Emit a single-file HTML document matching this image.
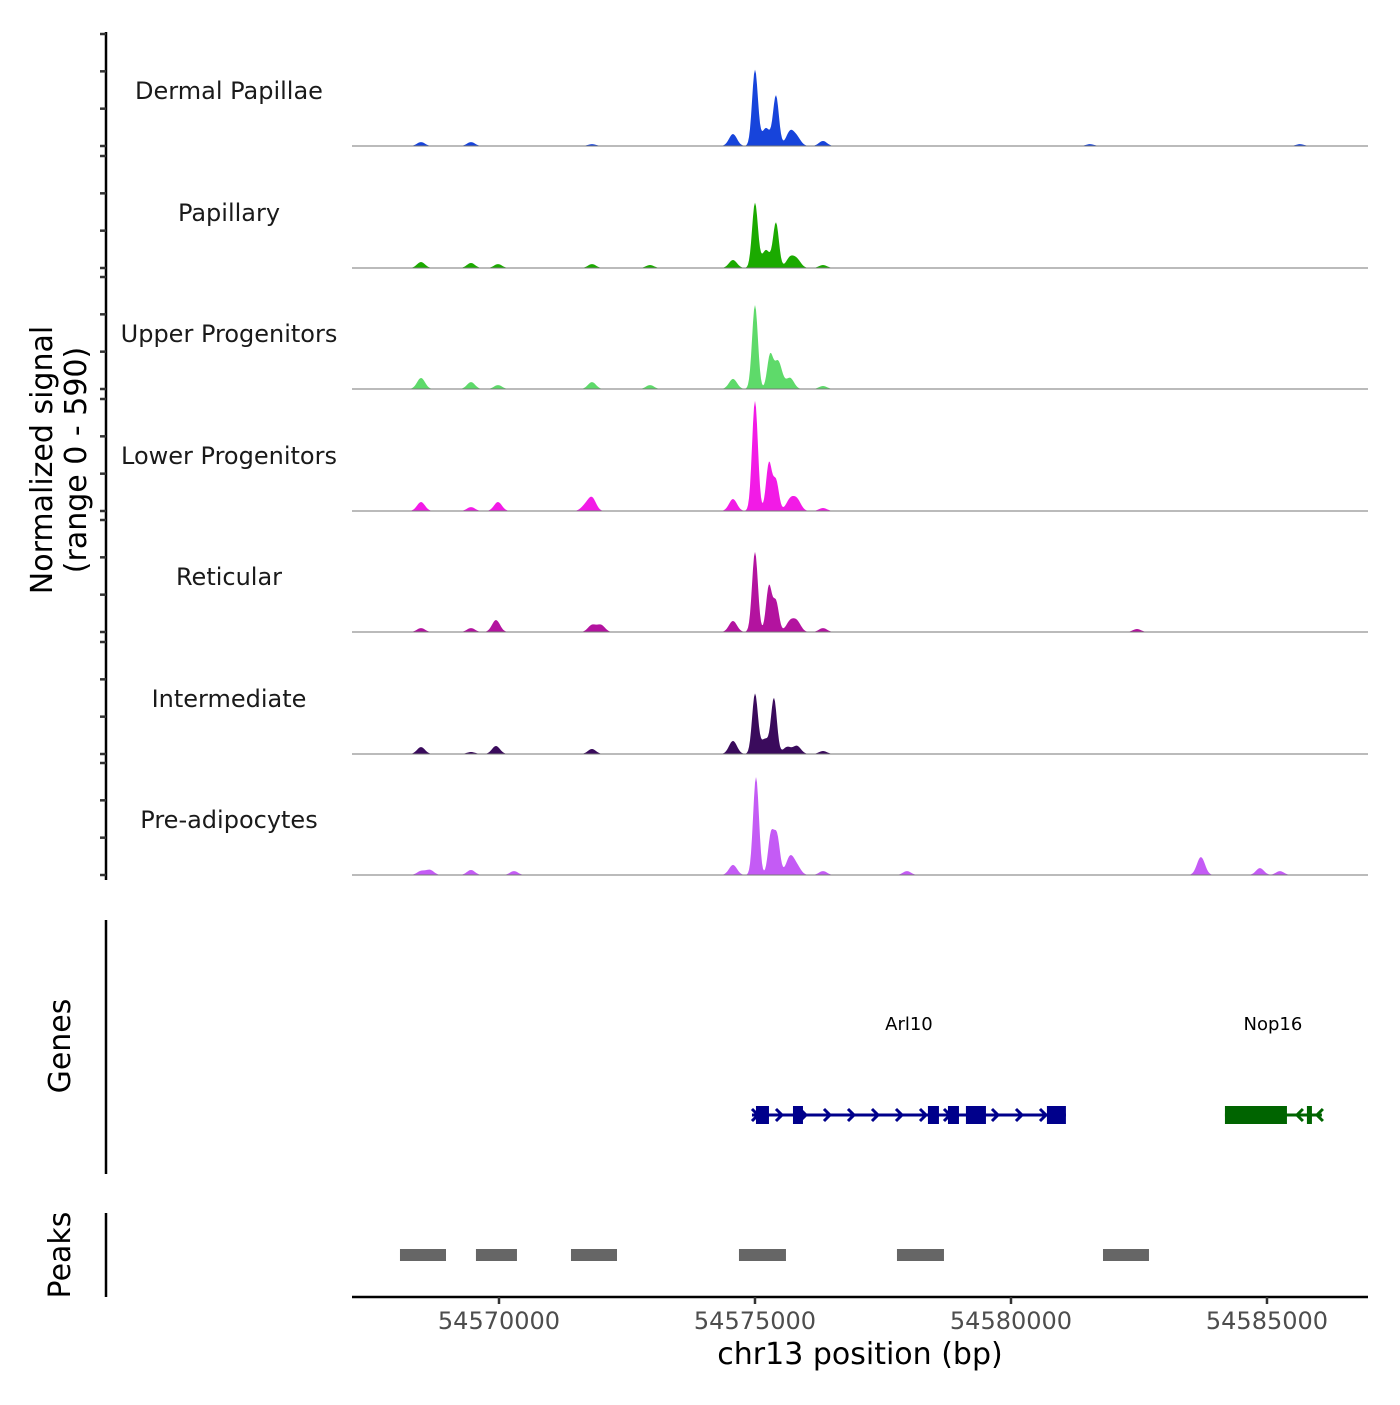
<!DOCTYPE html>
<html><head><meta charset="utf-8"><style>
body{margin:0;background:#fff}
svg text{font-family:"DejaVu Sans","Liberation Sans",sans-serif}
</style></head><body>
<svg id="chart" width="1400" height="1400" viewBox="0 0 1400 1400" xmlns="http://www.w3.org/2000/svg">
<g id="tracks"></g>
<line x1="106" y1="32" x2="106" y2="880" stroke="#000" stroke-width="2.5"/>
<g id="yticks"></g>
<g font-size="30" fill="#000">
<text transform="translate(52,460) rotate(-90)" text-anchor="middle">Normalized signal</text>
<text transform="translate(86,460) rotate(-90)" text-anchor="middle">(range 0 - 590)</text>
</g>
<line x1="106" y1="920" x2="106" y2="1174" stroke="#000" stroke-width="2.5"/>
<text transform="translate(70,1046) rotate(-90)" text-anchor="middle" font-size="30">Genes</text>
<g id="genes"></g>
<line x1="106" y1="1213" x2="106" y2="1297" stroke="#000" stroke-width="2.5"/>
<text transform="translate(70,1255) rotate(-90)" text-anchor="middle" font-size="30">Peaks</text>
<g id="peaks"></g>
<line x1="352" y1="1297" x2="1368" y2="1297" stroke="#000" stroke-width="2.5"/>
<g id="xticks"></g>
<text x="860" y="1364" text-anchor="middle" font-size="30">chr13 position (bp)</text>
</svg>
<script>
const trackNames=["Dermal Papillae","Papillary","Upper Progenitors","Lower Progenitors","Reticular","Intermediate","Pre-adipocytes"];
const trackColors=["#1744DB","#1BAA00","#5EDA6A","#F21BE6","#B3139F","#3A0B5C","#C45BF5"];
const peakPos1=[54568477,54569453,54571816,54574570,54575000,54575215,54575410,54575684,54575820,54576328,54581542,54585643];
const peakVal1=[21,21,10,64,407,96,268,75,43,27,10,10];
const peakPos2=[54568477,54569453,54569980,54571816,54572949,54574570,54575000,54575215,54575410,54575684,54575820,54576328];
const peakVal2=[32,27,21,21,16,43,348,96,241,54,43,16];
const peakPos3=[54568477,54569453,54569980,54571816,54572949,54574570,54575000,54575293,54575449,54575684,54576328];
const peakVal3=[59,37,21,37,21,54,450,171,150,59,16];
const peakPos4=[54568477,54569453,54569980,54571680,54571816,54574570,54575000,54575273,54575410,54575684,54575820,54576328];
const peakVal4=[48,21,48,27,70,64,590,257,161,59,59,16];
const peakPos5=[54568477,54569453,54569941,54571816,54571992,54574570,54575000,54575273,54575410,54575684,54575820,54576328,54582460];
const peakVal5=[21,21,64,37,37,59,429,246,161,54,54,21,16];
const peakPos6=[54568477,54569453,54569941,54571816,54574570,54575000,54575195,54575371,54575625,54575820,54576328];
const peakVal6=[37,11,43,27,70,321,80,295,37,43,16];
const peakPos7=[54568477,54568652,54569453,54570293,54574570,54575020,54575312,54575430,54575684,54575820,54576328,54577968,54583710,54584862,54585253];
const peakVal7=[21,27,27,21,54,525,214,204,96,43,21,21,96,37,21];
const peakPositions=[peakPos1,peakPos2,peakPos3,peakPos4,peakPos5,peakPos6,peakPos7];
const peakValues=[peakVal1,peakVal2,peakVal3,peakVal4,peakVal5,peakVal6,peakVal7];
const xTickValues=[54570000,54575000,54580000,54585000];
const yTickValues=[0,200,400,600];
const regionPeakStarts=[54568066,54569550,54571406,54574687,54577773,54581797];
const regionPeakEnds=[54568965,54570351,54572305,54575605,54578691,54582695];
const geneNames=["Arl10","Nop16"];
const geneStarts=[54574941,54584179];
const geneEnds=[54581073,54586073];
const geneStrands=[1,-1];
const arl10ExonStarts=[54575019,54575742,54578378,54578769,54579120,54580702];
const arl10ExonEnds=[54575273,54575937,54578593,54578984,54579511,54581073];
const nop16ExonStarts=[54584179,54585780];
const nop16ExonEnds=[54585390,54585878];

const NS="http://www.w3.org/2000/svg";
const X0=352,X1=1368,BP0=54567129,BP1=54586973;
function xs(bp){return X0+(bp-BP0)/(BP1-BP0)*(X1-X0);}
const baselines=[146,268,389,511,632,754,875];
const ySpan=112;
function ys(v,b){return b-v/600*ySpan;}
function mk(tag,attrs,parent){const e=document.createElementNS(NS,tag);for(const k in attrs)e.setAttribute(k,attrs[k]);parent.appendChild(e);return e;}

const tracks=document.getElementById('tracks');
const yt=document.getElementById('yticks');
trackNames.forEach((name,i)=>{
  const b=baselines[i];
  const g=mk('g',{},tracks);
  
  
  const pos=peakPositions[i],val=peakValues[i];
  let d='M'+xs(54568066).toFixed(1)+','+b;
  for(let px=Math.round(xs(54568066));px<=Math.round(xs(54586200));px++){
    let v=0;
    pos.forEach((p,j)=>{const dx=px-xs(p);const s=val[j]>150?2.9:4;v+=val[j]*Math.exp(-dx*dx/(2*s*s));});
    d+=' L'+px+','+ys(v,b).toFixed(2);
  }
  d+=' L'+Math.round(xs(54586200))+','+b+' Z';
  const area=mk('path',{d:d,fill:trackColors[i]},g);
  
  
  const bl=mk('line',{x1:X0,x2:X1,y1:b,y2:b,stroke:'#777','stroke-width':1},g);
  
  
  const lb=mk('text',{x:229,y:b-47,'text-anchor':'middle','font-size':24,fill:'#1a1a1a'},g);
  lb.textContent=name;
  
  
  yTickValues.forEach(t=>{
    const tk=mk('line',{x1:100,x2:106,y1:ys(t,b),y2:ys(t,b),stroke:'#333','stroke-width':2.5},yt);
    
    
  });
});

const xt=document.getElementById('xticks');
xTickValues.forEach(v=>{
  const x=xs(v);
  const l=mk('line',{x1:x,x2:x,y1:1297,y2:1304,stroke:'#333','stroke-width':2.5},xt);
  
  
  const t=mk('text',{x:x,y:1329,'text-anchor':'middle','font-size':24,fill:'#4d4d4d'},xt);
  t.textContent=v;
  
  
});

const pk=document.getElementById('peaks');
regionPeakStarts.forEach((s,i)=>{
  const r=mk('rect',{x:xs(s),y:1249,width:xs(regionPeakEnds[i])-xs(s),height:12,fill:'#666'},pk);
  
  
});

const gn=document.getElementById('genes');
const geneColors=["#00008B","#006400"];
const exS=[arl10ExonStarts,nop16ExonStarts],exE=[arl10ExonEnds,nop16ExonEnds];
geneNames.forEach((n,i)=>{
  const g=mk('g',{},gn);
  
  
  const c=geneColors[i],y=1115;
  const a=xs(geneStarts[i]),b=xs(geneEnds[i]);
  mk('line',{x1:a,x2:b,y1:y,y2:y,stroke:c,'stroke-width':3},g);
  const dir=geneStrands[i];
  if(dir>0){for(let x=a+4;x<b;x+=24){
    mk('path',{d:`M${x-4},${y-6} L${x+2},${y} L${x-4},${y+6}`,stroke:c,'stroke-width':3,fill:'none'},g);
  }}else{for(let x=b-3;x>a;x-=20){
    mk('path',{d:`M${x+4},${y-6} L${x-2},${y} L${x+4},${y+6}`,stroke:c,'stroke-width':3,fill:'none'},g);
  }}
  exS[i].forEach((s,j)=>{mk('rect',{x:xs(s),y:y-9,width:xs(exE[i][j])-xs(s),height:18,fill:c},g);});
  const lbx=i===0?(a+b)/2:xs(54585116);
  const t=mk('text',{x:lbx,y:1030,'text-anchor':'middle','font-size':18,fill:'#000'},g);
  t.textContent=n;
  
  
});
</script>
</body></html>
